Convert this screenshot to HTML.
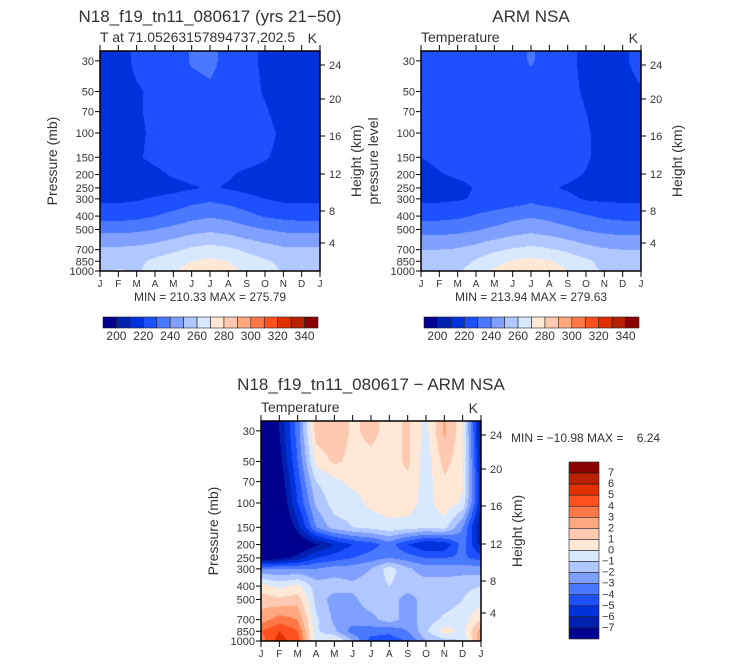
<!DOCTYPE html>
<html><head><meta charset="utf-8">
<style>
body{margin:0;background:#fff;width:733px;height:665px;overflow:hidden;font-family:"Liberation Sans",sans-serif}
#wrap{position:relative;width:733px;height:665px}
canvas{position:absolute}
svg{position:absolute;left:0;top:0}
text{fill:#333;font-family:"Liberation Sans",sans-serif;white-space:pre}
</style></head><body>
<div id="wrap">
<canvas id="c1" width="220" height="220" style="left:100px;top:51px"></canvas>
<canvas id="c2" width="220" height="220" style="left:421px;top:51px"></canvas>
<canvas id="c3" width="220" height="220" style="left:261px;top:421px"></canvas>
<svg id="s" width="733" height="665"></svg>
</div>
<script>
const months=["J","F","M","A","M","J","J","A","S","O","N","D","J"];
const pLevels=[30,50,70,100,150,200,250,300,400,500,700,850,1000];
const pTicks=[30,50,70,100,150,200,250,300,400,500,700,850,1000];
const hTicks=[24,20,16,12,8,4];
const hTickY=[14,48,85,123,160,192];
const palette=["#000090","#0020b0","#0032dc","#1e50ff","#4a78ff","#80a0ff","#b0c8ff","#d8e8ff","#ffe8d6","#ffc8b0","#ffa880","#ff7848","#ff5020","#e03000","#b82000","#8b0000"];
const tempLabels=["200","220","240","260","280","300","320","340"];
const diffLabels=["7","6","5","4","3","2","1","0","−1","−2","−3","−4","−5","−6","−7"];
const modelT=[
[215,216,222,223,225,231,233,226,223,218,216,215,215],
[214,216,219,222,224,226,228,226,224,219,216,214,214],
[214,215,219,222,224,225,226,225,224,221,216,214,214],
[214,215,218,222,224,225,226,225,225,223,218,215,214],
[214,215,219,222,224,225,225,225,224,221,217,215,214],
[214,215,216,218,221,223,223,221,218,216,215,214,214],
[213,214,215,216,217,219,221,219,217,215,214,213,213],
[218,218,219,221,223,226,228,226,223,220,218,218,218],
[226,226,227,230,233,237,239,237,233,229,227,226,226],
[237,237,238,240,243,246,248,246,243,240,238,237,237],
[252,252,253,255,258,262,264,262,258,255,252,252,252],
[256,257,258,262,266,270,272,270,265,261,258,256,256],
[258,261,259,263,269,274,275,273,268,264,259,258,258]];
const obsT=[
[223,223,223,223,224,226,231,226,222,218,217,219,222],
[223,223,223,223,224,225,226,225,222,219,217,218,219.5],
[222,223,223,223,224,225,225,224,223,220,217,217,218],
[221,222,223,223,224,225,225,224,223,221,217,216,217],
[220,222,223,223,224,224,224,224,223,221,217,216,216],
[217,219.5,221,222,223,223,223,223,222,219.5,217,216,216],
[215,216,218,220.5,222,223,223,221,219,217,216,216,216],
[218,218,219,221,222,224,227,224,222,219,218,218,218],
[227,227,228,231,234,237,239,237,234,231,228,227,227],
[236,236,237,239,242,245,247,245,242,239,237,236,236],
[250,250,251,254,258,261,263,261,258,254,251,250,250],
[254,255,256,261,267,271,273,271,266,262,257,254,254],
[257,258,259,264,271,277,279,276,270,263,259,257,257]];
const diffT=[
[-9,-7,-3.5,1.5,1.8,0.8,1.3,0.6,1.2,-0.3,2.2,0.3,-7],
[-9,-7.5,-4,0.3,1.2,0.7,0.7,0.5,1.2,-0.6,1.4,0.3,-6.5],
[-7.5,-8,-4.5,-1,-0.3,0.3,0.5,0.6,0.8,-0.5,0.8,0.2,-6],
[-7,-8.5,-5,-1.8,-0.5,-0.5,0.3,0.5,0.6,-0.5,0.7,-0.2,-6],
[-7.5,-9,-6.5,-3,-1.5,-1,-0.7,-0.3,-0.5,-0.8,-0.6,-3,-7],
[-8.5,-9,-8.5,-7.2,-6,-5,-4.5,-3.5,-5,-6,-5.8,-3.5,-6.5],
[-8,-7.5,-6.5,-5,-4.5,-4,-3.5,-3,-3.5,-4,-4,-3.8,-4.5],
[-3,-3,-3,-3,-2.5,-2.5,-2,-0.5,-1.8,-2.5,-2.5,-2.5,-2.5],
[0.5,-0.3,0.3,-1.5,-1.5,-1.8,-1.5,-1,-1.5,-1.5,-1.5,-1.2,-1],
[1.5,1.2,1.5,-1.3,-2.5,-2.2,-1.5,-1.5,-2.5,-1.5,-1.5,-1,-0.5],
[2.5,3.5,3,-0.8,-2.2,-2.5,-2.3,-1.5,-2.5,-1.5,-0.8,-0.5,1],
[4,5,4,-0.8,-1.8,-3.5,-3.5,-3.8,-3,-1.2,0.5,-0.3,2.5],
[3.5,5.5,4.5,-0.5,0.5,-2,-4.5,-4.5,-4,-2,-1.5,-1,3]];

const W=220,H=220;
function xScale(m){return m/12*W;}
function yScale(p){return H-(3-Math.log10(p))*138;}
function yInv(y){return Math.pow(10,3-(H-y)/138);}
function sample(grid,m,p){
  const lp=Math.log10(Math.max(30,Math.min(1000,p)));
  let r=0;while(r<pLevels.length-2&&Math.log10(pLevels[r+1])<lp)r++;
  const l0=Math.log10(pLevels[r]),l1=Math.log10(pLevels[r+1]);
  const ty=Math.max(0,Math.min(1,(lp-l0)/(l1-l0)));
  const c=Math.min(11,Math.floor(m)),tx=m-c;
  const a=grid[r][c]*(1-tx)+grid[r][c+1]*tx;
  const b=grid[r+1][c]*(1-tx)+grid[r+1][c+1]*tx;
  return a*(1-ty)+b*ty;
}
function hex(h){return [parseInt(h.substr(1,2),16),parseInt(h.substr(3,2),16),parseInt(h.substr(5,2),16)];}
const pal=palette.map(hex);
function draw(id,grid,toIdx){
  const ctx=document.getElementById(id).getContext('2d');
  const img=ctx.createImageData(W,H);
  for(let y=0;y<H;y++){const p=yInv(y+0.5);
    for(let x=0;x<W;x++){const v=sample(grid,(x+0.5)/W*12,p);
      let k=toIdx(v);k=Math.max(0,Math.min(15,k));const c=pal[k],o=(y*W+x)*4;
      img.data[o]=c[0];img.data[o+1]=c[1];img.data[o+2]=c[2];img.data[o+3]=255;}}
  ctx.putImageData(img,0,0);
}
draw('c1',modelT,v=>Math.floor((v-200)/10)+1);
draw('c2',obsT,v=>Math.floor((v-200)/10)+1);
draw('c3',diffT,v=>Math.floor(v)+8);

const NS="http://www.w3.org/2000/svg",svg=document.getElementById('s');
function el(tag,attrs,txt,name){const e=document.createElementNS(NS,tag);for(const k in attrs)e.setAttribute(k,attrs[k]);if(txt!==undefined)e.textContent=txt;


svg.appendChild(e);return e;}
function panel(ox,oy,o){
  el('rect',{x:ox,y:oy,width:W,height:H,fill:'none',stroke:'#000','stroke-width':1.5},undefined,'plot-frame');
  months.forEach((m,i)=>{const x=ox+xScale(i);
    el('line',{x1:x,y1:oy+H,x2:x,y2:oy+H+6,stroke:'#000'},undefined,'x-tick');
    el('line',{x1:x,y1:oy,x2:x,y2:oy-6,stroke:'#000'},undefined,'x-tick-top');
    el('text',{x:x,y:oy+H+16,'font-size':10,'text-anchor':'middle'},m,'x-tick-label');});
  pTicks.forEach(p=>{const y=oy+yScale(p);
    el('line',{x1:ox,y1:y,x2:ox-5,y2:y,stroke:'#000'},undefined,'y-tick');
    el('text',{x:ox-6,y:y+4,'font-size':11,'text-anchor':'end'},String(p),'y-tick-label');});
  hTicks.forEach((h,i)=>{const y=oy+hTickY[i];
    el('line',{x1:ox+W,y1:y,x2:ox+W+5,y2:y,stroke:'#000'},undefined,'height-tick');
    el('text',{x:ox+W+9,y:y+4,'font-size':11},String(h),'height-tick-label');});
  el('text',{x:0,y:0,'font-size':14,'text-anchor':'middle',fill:'#555',transform:`translate(${ox-43},${oy+110}) rotate(-90)`},o.ylab,'y-axis-title');
  el('text',{x:0,y:0,'font-size':14,'text-anchor':'middle',fill:'#555',transform:`translate(${ox+W+41},${oy+110}) rotate(-90)`},'Height (km)','right-axis-title');
  el('text',{x:ox,y:oy-9,'font-size':14},o.sub,'subtitle');
  el('text',{x:ox+W-3,y:oy-8,'font-size':14,'text-anchor':'end'},'K','units-label');
  el('text',{x:o.tx,y:o.ty,'font-size':17,'text-anchor':'middle',fill:'#444'},o.title,'plot-title');
}
panel(100,51,{ylab:'Pressure (mb)',sub:'T at 71.05263157894737,202.5',title:'N18_f19_tn11_080617 (yrs 21−50)',tx:210,ty:22});
panel(421,51,{ylab:'pressure level',sub:'Temperature',title:'ARM NSA',tx:531,ty:22});
panel(261,421,{ylab:'Pressure (mb)',sub:'Temperature',title:'N18_f19_tn11_080617 − ARM NSA',tx:371,ty:390});
el('text',{x:210,y:301,'font-size':12,'text-anchor':'middle'},'MIN = 210.33 MAX = 275.79','min-max-label');
el('text',{x:531,y:301,'font-size':12,'text-anchor':'middle'},'MIN = 213.94 MAX = 279.63','min-max-label');
el('text',{x:511,y:442,'font-size':12},'MIN = −10.98 MAX =    6.24','min-max-label');
function hbar(x0,x1,y){const bw=(x1-x0)/16;
  palette.forEach((c,i)=>el('rect',{x:x0+i*bw,y:y,width:bw,height:11,fill:c,stroke:'#222','stroke-width':0.6},undefined,'colorbar-box'));
  tempLabels.forEach((t,i)=>el('text',{x:x0+(1+2*i)*bw,y:y+23,'font-size':12,'text-anchor':'middle'},t,'colorbar-label'));}
hbar(103,318,317);hbar(424,639,317);
const vb=(639-462)/16;
palette.slice().reverse().forEach((c,i)=>el('rect',{x:569,y:462+i*vb,width:30,height:vb,fill:c,stroke:'#222','stroke-width':0.6},undefined,'colorbar-box'));
diffLabels.forEach((t,i)=>el('text',{x:t.length>1?602:608,y:462+(i+1)*vb+3,'font-size':11},t,'colorbar-label'));
</script>
</body></html>
